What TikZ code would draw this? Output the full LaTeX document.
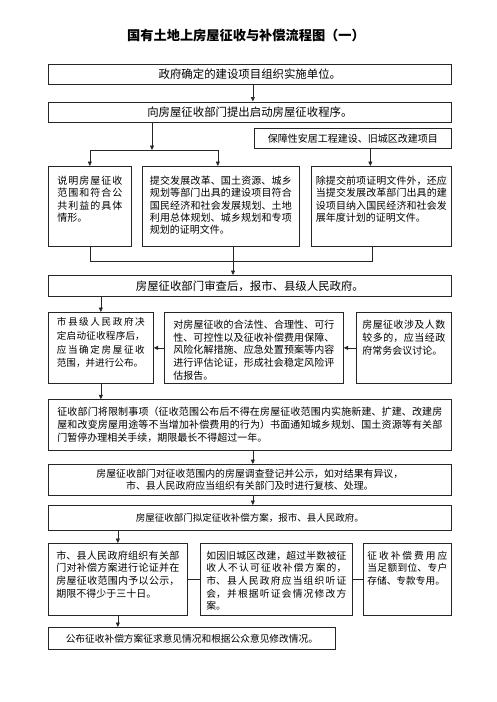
\documentclass[tikz,border=0pt]{standalone}
\usepackage{fontspec}
\setmainfont{Noto Sans CJK SC}
\usepackage{tikz}
\usetikzlibrary{arrows.meta,positioning}
\XeTeXlinebreaklocale "zh"
\XeTeXlinebreakskip=0pt plus 2pt
\tolerance=10000
\hbadness=10000
\tikzset{>={Triangle[length=4.5pt,width=4pt]}}

\begin{document}
\begin{tikzpicture}[x=1pt, y=-1pt,
                    box/.style={draw=black!85, line width=0.7pt, inner sep=0pt, anchor=north west},
                    bar/.style={box, minimum width=403pt, font=\fontsize{11.4pt}{13.5pt}\selectfont},
                    cell/.style={box, align=justify},
                    link/.style={line width=0.7pt, black!85},
                   ]

\fill[white] (0,0) rectangle (496,702);
\useasboundingbox (0,0) rectangle (496,702);

\node[font=\fontsize{13.2pt}{15pt}\selectfont\bfseries] (title) at (246,36) {国有土地上房屋征收与补偿流程图（一）};

% top
\node[bar, minimum height=20pt] (start) at (48,64) {政府确定的建设项目组织实施单位。};
\node[bar, minimum height=20.5pt] (apply) at (48,101.5) {向房屋征收部门提出启动房屋征收程序。};
\node[box, minimum width=197pt, minimum height=20pt, font=\fontsize{10pt}{12pt}\selectfont] (housing) at (254,128) {保障性安居工程建设、旧城区改建项目};

% documents
\node[cell, inner xsep=9pt, text width=65pt, text height=18pt, text depth=62pt, font=\fontsize{10pt}{12.4pt}\selectfont] (docA) at (48,166) {说明房屋征收\linebreak 范围和符合公\linebreak 共利益的具体\linebreak 情形。};
\node[cell, inner xsep=7.5pt, text width=142pt, text height=18pt, text depth=62pt, font=\fontsize{10pt}{12.4pt}\selectfont] (docB) at (142,166) {提交发展改革、国土资源、城乡\linebreak 规划等部门出具的建设项目符合\linebreak 国民经济和社会发展规划、土地\linebreak 利用总体规划、城乡规划和专项\linebreak 规划的证明文件。};
\node[cell, inner xsep=4.5pt, text width=131pt, text height=18pt, text depth=62pt, font=\fontsize{10pt}{12.4pt}\selectfont] (docC) at (311,166) {除提交前项证明文件外，还应\linebreak 当提交发展改革部门出具的建\linebreak 设项目纳入国民经济和社会发\linebreak 展年度计划的证明文件。};

\node[bar, minimum height=21pt] (review) at (48,275) {房屋征收部门审查后，报市、县级人民政府。};

% decision
\node[cell, inner xsep=8.5pt, text width=88pt, text height=13.4pt, text depth=57.6pt, font=\fontsize{9.6pt}{13.7pt}\selectfont] (decide) at (48,312) {市县级人民政府决\linebreak 定启动征收程序后，\linebreak 应当确定房屋征收\linebreak 范围，并进行公布。};
\node[cell, inner xsep=9pt, text width=161pt, text height=16pt, text depth=55pt, font=\fontsize{10pt}{12.7pt}\selectfont] (assess) at (164,312) {对房屋征收的合法性、合理性、可行\linebreak 性、可控性以及征收补偿费用保障、\linebreak 风险化解措施、应急处置预案等内容\linebreak 进行评估论证，形成社会稳定风险评\linebreak 估报告。};
\node[cell, inner xsep=6pt, text width=83pt, text height=16pt, text depth=55pt, font=\fontsize{10pt}{13pt}\selectfont] (meeting) at (356,312) {房屋征收涉及人数\linebreak 较多的，应当经政\linebreak 府常务会议讨论。};

\node[cell, inner xsep=9pt, text width=385pt, text height=16.2pt, text depth=34.5pt, font=\fontsize{10pt}{12.8pt}\selectfont] (restrict) at (48,399.3) {征收部门将限制事项（征收范围公布后不得在房屋征收范围内实施新建、扩建、改建房\linebreak 屋和改变房屋用途等不当增加补偿费用的行为）书面通知城乡规划、国土资源等有关部\linebreak 门暂停办理相关手续，期限最长不得超过一年。};

\node[bar, minimum height=31pt, align=center, font=\fontsize{9.9pt}{12.4pt}\selectfont] (survey) at (48,464) {房屋征收部门对征收范围内的房屋调查登记并公示，如对结果有异议，\\市、县人民政府应当组织有关部门及时进行复核、处理。};
\node[bar, minimum height=25pt, font=\fontsize{9.5pt}{12pt}\selectfont] (scheme) at (48,505) {房屋征收部门拟定征收补偿方案，报市、县人民政府。};

% scheme
\node[cell, inner xsep=8pt, text width=123pt, text height=16pt, text depth=56pt, font=\fontsize{10pt}{12.6pt}\selectfont] (demo) at (48,543) {市、县人民政府组织有关部\linebreak 门对补偿方案进行论证并在\linebreak 房屋征收范围内予以公示，\linebreak 期限不得少于三十日。};
\node[cell, inner xsep=6pt, text width=140pt, text height=16pt, text depth=56pt, font=\fontsize{9.8pt}{12.6pt}\selectfont] (hearing) at (200,543) {如因旧城区改建，超过半数被征\linebreak 收人不认可征收补偿方案的，\linebreak 市、县人民政府应当组织听证\linebreak 会，并根据听证会情况修改方\linebreak 案。};
\node[cell, inner xsep=4pt, text width=80pt, text height=16pt, text depth=56pt, font=\fontsize{9.7pt}{12.6pt}\selectfont] (fund) at (363,543) {征收补偿费用应\linebreak 当足额到位、专户\linebreak 存储、专款专用。};

\node[box, minimum width=287pt, minimum height=22pt, font=\fontsize{9.7pt}{12pt}\selectfont] (publish) at (48,627) {公布征收补偿方案征求意见情况和根据公众意见修改情况。};

% connectors
\coordinate (fork) at (152,150);
\coordinate (inB) at ([xshift=-3pt]docB.north);
\coordinate (inC) at ([xshift=-11pt]docC.north);
\coordinate (outC) at ([xshift=-9pt]docC.south);
\coordinate (merge) at (233,261);

\draw[link,->] ([xshift=3pt]start.south) -- ([xshift=3pt]apply.north);
\draw[link,->] (fork |- apply.south) -- (fork);
\draw[link] (docA.north |- fork) -- (inB |- fork);
\draw[link,->] (docA.north |- fork) -- (docA.north);
\draw[link,->] (inB |- fork) -- (inB);
\draw[link,->] (inC |- housing.south) -- (inC);

\draw[link] (docA.south) -- (docA.south |- merge) -- (outC |- merge) -- (outC);
\draw[link,->] (merge |- docB.south) -- (merge |- review.north);

\draw[link,->] (review.south -| decide.north) -- (decide.north);
\draw[link,->] (assess.west) -- (decide.east);
\draw[link,->] (meeting.west) -- (assess.east);
\draw[link,->] (decide.south) -- (decide.south |- restrict.north);

\draw[link,->] ([xshift=3pt]restrict.south) -- ([xshift=3pt]survey.north);
\draw[link,->] ([xshift=3pt]survey.south) -- ([xshift=3pt]scheme.north);
\draw[link,->] (scheme.south -| demo.north) -- (demo.north);

\draw[link] (demo.east) -- (hearing.west);
\draw[link] (hearing.east) -- (fund.west);
\draw[link,->] (demo.south) -- (demo.south |- publish.north);

\end{tikzpicture}
\end{document}
